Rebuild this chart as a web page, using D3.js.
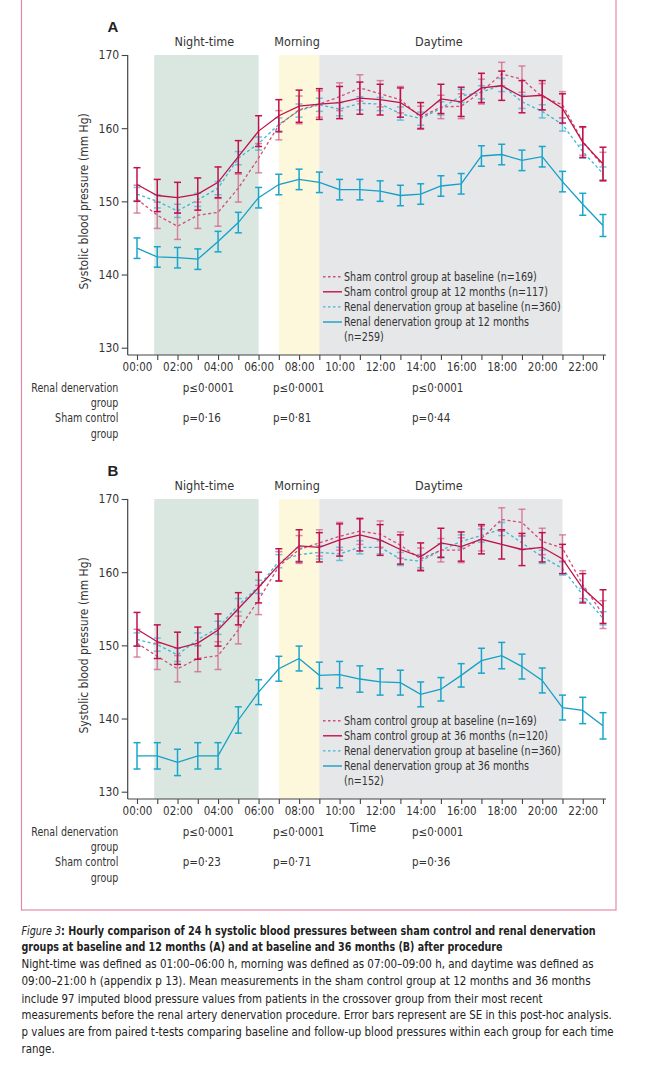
<!DOCTYPE html>
<html>
<head>
<meta charset="utf-8">
<script src="https://cdn.jsdelivr.net/npm/d3@7"></script>
<style>
  body { margin: 0; background: #fff; }
  svg { display: block; }
</style>
</head>
<body>
<div id="chart"></div>
<script>
var hours = [0, 1, 2, 3, 4, 5, 6, 7, 8, 9, 10, 11, 12, 13, 14, 15, 16, 17, 18, 19, 20, 21, 22, 23];
var tickLabels = ["00:00", "02:00", "04:00", "06:00", "08:00", "10:00", "12:00", "14:00", "16:00", "18:00", "20:00", "22:00"];
var yTicks = [130, 140, 150, 160, 170];

var periods = ["Night-time", "Morning", "Daytime"];
var periodStart = [0.85, 7, 9];
var periodEnd = [6, 9, 21];

// panel A : baseline vs 12 months
var shamBaseA    = [150.3, 148.1, 146.6, 148.1, 148.5, 151.8, 155.9, 160.4, 162.5, 163.3, 164.3, 165.5, 164.7, 163.9, 161.5, 162.9, 163.0, 165.0, 167.4, 166.7, 164.3, 163.2, 158.2, 154.8];
var shamBaseErrA = [1.9, 1.8, 1.8, 1.8, 1.9, 1.9, 2.0, 2.0, 1.9, 1.8, 1.9, 1.8, 1.8, 1.8, 1.5, 1.6, 1.7, 1.7, 1.6, 1.8, 1.8, 1.8, 1.9, 1.9];
var sham12       = [152.3, 150.8, 150.5, 151.0, 152.6, 156.1, 159.6, 161.7, 163.0, 163.3, 163.5, 164.1, 163.9, 163.5, 161.7, 164.0, 163.6, 165.5, 165.8, 164.3, 164.5, 162.7, 158.1, 155.1];
var sham12Err    = [2.3, 2.2, 2.1, 2.2, 2.1, 2.2, 2.1, 2.2, 2.2, 2.1, 2.2, 2.2, 2.1, 2.0, 1.8, 2.0, 2.0, 2.0, 2.0, 2.2, 2.0, 2.0, 2.1, 2.3];
var renalBaseA   = [151.0, 150.0, 148.7, 150.2, 151.8, 155.9, 157.9, 160.5, 162.4, 163.2, 162.6, 163.4, 163.3, 162.0, 161.3, 162.7, 164.4, 164.9, 165.9, 163.6, 162.3, 160.5, 156.8, 153.8];
var renalBaseErrA = [0.9, 0.9, 0.9, 0.9, 0.9, 0.9, 0.9, 0.9, 0.9, 0.9, 0.9, 0.9, 0.9, 0.9, 0.9, 0.9, 0.9, 0.9, 0.9, 0.9, 0.9, 0.9, 0.9, 0.9];
var renal12      = [143.6, 142.4, 142.3, 142.1, 144.5, 147.1, 150.5, 152.3, 153.0, 152.6, 151.6, 151.6, 151.4, 150.8, 151.0, 152.1, 152.4, 156.2, 156.4, 155.6, 156.1, 152.7, 149.6, 146.7];
var renal12Err   = [1.4, 1.4, 1.4, 1.4, 1.4, 1.4, 1.4, 1.4, 1.4, 1.4, 1.4, 1.4, 1.4, 1.4, 1.4, 1.4, 1.4, 1.4, 1.4, 1.4, 1.4, 1.4, 1.5, 1.5];

// panel B : baseline vs 36 months
var shamBaseB    = [150.3, 148.5, 146.8, 148.2, 148.6, 152.1, 156.2, 160.8, 163.1, 164.0, 164.9, 165.6, 165.2, 163.7, 161.8, 163.0, 163.0, 164.6, 167.2, 166.8, 164.2, 163.3, 158.3, 154.2];
var shamBaseErrB = [1.9, 1.8, 1.8, 1.8, 1.9, 1.9, 2.0, 2.0, 1.9, 1.8, 1.9, 1.8, 1.8, 1.8, 1.5, 1.6, 1.7, 1.7, 1.6, 1.8, 1.8, 1.8, 1.9, 1.9];
var sham36       = [152.2, 150.5, 149.6, 150.3, 152.1, 155.0, 157.9, 161.0, 163.6, 163.4, 164.4, 165.1, 164.4, 163.1, 162.1, 164.0, 163.5, 164.5, 163.8, 163.1, 163.4, 161.8, 157.8, 155.3];
var sham36Err    = [2.3, 2.3, 2.2, 2.2, 2.2, 2.2, 2.1, 2.2, 2.2, 2.0, 2.2, 2.2, 2.1, 2.0, 1.9, 2.0, 2.0, 2.0, 2.0, 2.2, 2.0, 2.0, 2.0, 2.3];
var renalBaseB   = [150.8, 150.1, 148.7, 150.8, 152.4, 155.5, 158.0, 161.5, 162.4, 162.7, 162.5, 163.4, 163.4, 161.8, 161.5, 163.0, 164.2, 165.0, 165.9, 164.0, 162.1, 160.5, 156.9, 153.7];
var renalBaseErrB = [0.9, 0.9, 0.9, 0.9, 0.9, 0.9, 0.9, 0.9, 0.9, 0.9, 0.9, 0.9, 0.9, 0.9, 0.9, 0.9, 0.9, 0.9, 0.9, 0.9, 0.9, 0.9, 0.9, 0.9];
var renal36      = [134.9, 134.9, 134.0, 134.9, 134.9, 139.8, 143.6, 146.8, 148.2, 145.9, 146.0, 145.4, 145.0, 144.9, 143.3, 144.0, 145.9, 147.9, 148.6, 147.1, 145.2, 141.5, 141.1, 139.0];
var renal36Err   = [1.8, 1.8, 1.8, 1.8, 1.8, 1.8, 1.7, 1.7, 1.7, 1.8, 1.8, 1.8, 1.8, 1.7, 1.7, 1.6, 1.6, 1.7, 1.8, 1.7, 1.7, 1.7, 1.8, 1.8];

var legendA = ["Sham control group at baseline (n=169)", "Sham control group at 12 months (n=117)", "Renal denervation group at baseline (n=360)", "Renal denervation group at 12 months", "(n=259)"];
var legendB = ["Sham control group at baseline (n=169)", "Sham control group at 36 months (n=120)", "Renal denervation group at baseline (n=360)", "Renal denervation group at 36 months", "(n=152)"];

var rowLabels = [["Renal denervation", "group"], ["Sham control", "group"]];
var pRenalA = ["p≤0·0001", "p≤0·0001", "p≤0·0001"];
var pShamA  = ["p=0·16", "p=0·81", "p=0·44"];
var pRenalB = ["p≤0·0001", "p≤0·0001", "p≤0·0001"];
var pShamB  = ["p=0·23", "p=0·71", "p=0·36"];

var captionLines = [
  "Hourly comparison of 24 h systolic blood pressures between sham control and renal denervation",
  "groups at baseline and 12 months (A) and at baseline and 36 months (B) after procedure",
  "Night-time was defined as 01:00–06:00 h, morning was defined as 07:00–09:00 h, and daytime was defined as",
  "09:00–21:00 h (appendix p 13). Mean measurements in the sham control group at 12 months and 36 months",
  "include 97 imputed blood pressure values from patients in the crossover group from their most recent",
  "measurements before the renal artery denervation procedure. Error bars represent are SE in this post-hoc analysis.",
  "p values are from paired t-tests comparing baseline and follow-up blood pressures within each group for each time",
  "range."
];

var FONT = "'Liberation Sans Narrow','DejaVu Sans Condensed','Roboto Condensed','Liberation Sans',sans-serif";
var crimson = "#c0124a", pink = "#cf4f78", blue = "#169fc6", lightBlue = "#3fb6d9";
var periodFill = ["#d9e7e0", "#fdf7dc", "#e6e7e9"];

var svg = d3.select("#chart").append("svg")
    .attr("width", 645)
    .attr("height", 1075)
    .style("font-family", FONT);

// pink frame
svg.append("rect")
    .attr("x", 21.5).attr("y", -2)
    .attr("width", 594.5).attr("height", 912)
    .attr("fill", "none")
    .attr("stroke", "#e38aa9")
    .attr("stroke-width", 1.2);

var x = d3.scaleLinear()
    .domain([0, 23])
    .range([137, 603]);

// squeeze a text horizontally so that it spans the given width (narrow face of the original)
function squeeze(text, width) {
  var s = width / text.node().getComputedTextLength();
  return Math.min(s, 1);
}

function drawPanel(top, letter, series, legend, pRenal, pSham, showTime) {
  var y = d3.scaleLinear().domain([130, 170]).range([top + 292.7, top]);
  var axisY = top + 300;
  var g = svg.append("g");

  g.append("text")
      .attr("x", 113).attr("y", top - 23)
      .attr("text-anchor", "middle")
      .attr("font-family", "'Liberation Sans','DejaVu Sans',sans-serif")
      .attr("font-weight", "bold")
      .attr("font-size", 15)
      .attr("fill", "#222")
      .text(letter);

  // time periods
  g.selectAll("rect.period")
    .data(periods)
    .enter().append("rect")
      .attr("class", "period")
      .attr("x", (d, i) => x(periodStart[i]))
      .attr("y", y(170))
      .attr("width", (d, i) => x(periodEnd[i]) - x(periodStart[i]))
      .attr("height", axisY - y(170))
      .attr("fill", (d, i) => periodFill[i]);

  g.selectAll("text.period")
    .data(periods)
    .enter().append("text")
      .attr("class", "period")
      .attr("x", (d, i) => (x(periodStart[i]) + x(periodEnd[i])) / 2 - 2)
      .attr("y", top - 9)
      .attr("text-anchor", "middle")
      .attr("font-size", 12.5)
      .attr("fill", "#333")
      .text(d => d);

  // axes
  var xAxis = g.append("g")
      .attr("transform", "translate(0," + axisY + ")")
      .call(d3.axisBottom(x)
        .tickValues(hours)
        .tickSize(5)
        .tickPadding(3)
        .tickFormat(h => h % 2 === 0 ? tickLabels[h / 2] : ""));
  xAxis.select(".domain").remove();
  xAxis.selectAll("line").attr("stroke", "#444").attr("stroke-width", 1.1);
  xAxis.selectAll("text").attr("font-size", 11.5).attr("fill", "#333").style("font-family", FONT);

  var yAxis = g.append("g")
      .attr("transform", "translate(127.7,0)")
      .call(d3.axisLeft(y).tickValues(yTicks).tickSize(6).tickPadding(2.5));
  yAxis.select(".domain").remove();
  yAxis.selectAll("line").attr("stroke", "#444").attr("stroke-width", 1.1);
  yAxis.selectAll("text").attr("font-size", 12).attr("fill", "#333").style("font-family", FONT);

  g.append("line")
      .attr("x1", 127.7).attr("x2", 127.7)
      .attr("y1", y(170)).attr("y2", axisY)
      .attr("stroke", "#444").attr("stroke-width", 1.2);
  g.append("line")
      .attr("x1", 127.7).attr("x2", x(23) + 3)
      .attr("y1", axisY).attr("y2", axisY)
      .attr("stroke", "#444").attr("stroke-width", 1.2);

  g.append("text")
      .attr("transform", "translate(88," + y(150) + ") rotate(-90)")
      .attr("text-anchor", "middle")
      .attr("font-size", 12)
      .attr("fill", "#333")
      .text("Systolic blood pressure (mm Hg)");

  if (showTime) {
    g.append("text")
        .attr("x", 363).attr("y", axisY + 33)
        .attr("text-anchor", "middle")
        .attr("font-size", 12)
        .attr("fill", "#333")
        .text("Time");
  }

  // series
  var line = d3.line().x((d, i) => x(hours[i])).y(d => y(d));
  series.forEach(function(s) {
    var sg = g.append("g");
    sg.append("path")
        .datum(s.values)
        .attr("fill", "none")
        .attr("stroke", s.color)
        .attr("stroke-width", 1.3)
        .attr("stroke-dasharray", s.dashed ? "3,2.5" : null)
        .attr("d", line);
    var eb = sg.selectAll("g.eb")
      .data(s.values)
      .enter().append("g")
        .attr("class", "eb")
        .attr("stroke", s.barColor)
        .attr("stroke-opacity", s.dashed ? 0.75 : 1)
        .attr("stroke-width", 1.5);
    eb.append("line")
        .attr("x1", (d, i) => x(hours[i])).attr("x2", (d, i) => x(hours[i]))
        .attr("y1", (d, i) => y(d + s.err[i])).attr("y2", (d, i) => y(d - s.err[i]));
    eb.append("line")
        .attr("x1", (d, i) => x(hours[i]) - 3.5).attr("x2", (d, i) => x(hours[i]) + 3.5)
        .attr("y1", (d, i) => y(d + s.err[i])).attr("y2", (d, i) => y(d + s.err[i]));
    eb.append("line")
        .attr("x1", (d, i) => x(hours[i]) - 3.5).attr("x2", (d, i) => x(hours[i]) + 3.5)
        .attr("y1", (d, i) => y(d - s.err[i])).attr("y2", (d, i) => y(d - s.err[i]));
  });

  // legend
  var legendOrder = [series[1], series[3], series[0], series[2]];
  var lg = g.append("g");
  var legScale = null;
  legend.forEach(function(label, i) {
    var ly = top + 221.7 + i * 15.1;
    var s = legendOrder[i];
    if (s) {
      lg.append("line")
          .attr("x1", 323).attr("x2", 342)
          .attr("y1", ly).attr("y2", ly)
          .attr("stroke", s.color)
          .attr("stroke-width", 1.4)
          .attr("stroke-dasharray", s.dashed ? "2.5,2.5" : null);
    }
    var tg = lg.append("g");
    var tx = tg.append("text")
        .attr("font-size", 12.5)
        .attr("fill", "#333")
        .text(label);
    if (legScale === null) legScale = squeeze(tx, 193);
    tg.attr("transform", "translate(344," + (ly + 4.3) + ") scale(" + legScale + ",1)");
  });

  // p values
  var pCols = [182.7, 273, 412];
  var rowsY = [axisY + 36.7, axisY + 67.3];
  var rowScale = null;
  rowLabels.forEach(function(lbl, r) {
    lbl.forEach(function(t, k) {
      var rg = g.append("g");
      var tx = rg.append("text")
          .attr("text-anchor", "end")
          .attr("font-size", 12.5)
          .attr("fill", "#333")
          .text(t);
      if (rowScale === null) rowScale = squeeze(tx, 87);
      rg.attr("transform", "translate(118.3," + (rowsY[r] + k * 15.6) + ") scale(" + rowScale + ",1)");
    });
  });
  [pRenal, pSham].forEach(function(vals, r) {
    vals.forEach(function(v, c) {
      g.append("text")
          .attr("x", pCols[c]).attr("y", rowsY[r])
          .attr("font-size", 11.5)
          .attr("fill", "#333")
          .text(v);
    });
  });
}

drawPanel(55, "A", [
  { values: renalBaseA, err: renalBaseErrA, color: lightBlue, barColor: lightBlue, dashed: true },
  { values: shamBaseA, err: shamBaseErrA, color: pink, barColor: "#d2638a", dashed: true },
  { values: renal12, err: renal12Err, color: blue, barColor: "#1aa6cc", dashed: false },
  { values: sham12, err: sham12Err, color: crimson, barColor: crimson, dashed: false }
], legendA, pRenalA, pShamA, false);

drawPanel(499, "B", [
  { values: renalBaseB, err: renalBaseErrB, color: lightBlue, barColor: lightBlue, dashed: true },
  { values: shamBaseB, err: shamBaseErrB, color: pink, barColor: "#d2638a", dashed: true },
  { values: renal36, err: renal36Err, color: blue, barColor: "#1aa6cc", dashed: false },
  { values: sham36, err: sham36Err, color: crimson, barColor: crimson, dashed: false }
], legendB, pRenalB, pShamB, true);

// caption, each line squeezed to the width it has in the original
var capEnds = [596, 503, 594, 590.6, 542.5, 612, 614.4, null];
var capY = [934.5, 951.2, 967.8, 985.3, 1002.6, 1019.3, 1036, 1053.3];
var cap = svg.append("g").attr("fill", "#222").attr("font-size", 12.8);
var lastScale = 1;
captionLines.forEach(function(t, i) {
  var lg = cap.append("g");
  var tx = lg.append("text");
  if (i === 0) {
    tx.append("tspan").attr("font-style", "italic").text("Figure 3");
    tx.append("tspan").attr("font-weight", "bold").text(": " + t);
  } else if (i === 1) {
    tx.attr("font-weight", "bold").text(t);
  } else {
    tx.text(t);
  }
  var s = capEnds[i] ? squeeze(tx, capEnds[i] - 21.5) : lastScale;
  lastScale = s;
  lg.attr("transform", "translate(21.5," + capY[i] + ") scale(" + s + ",1)");
});
</script>
</body>
</html>
